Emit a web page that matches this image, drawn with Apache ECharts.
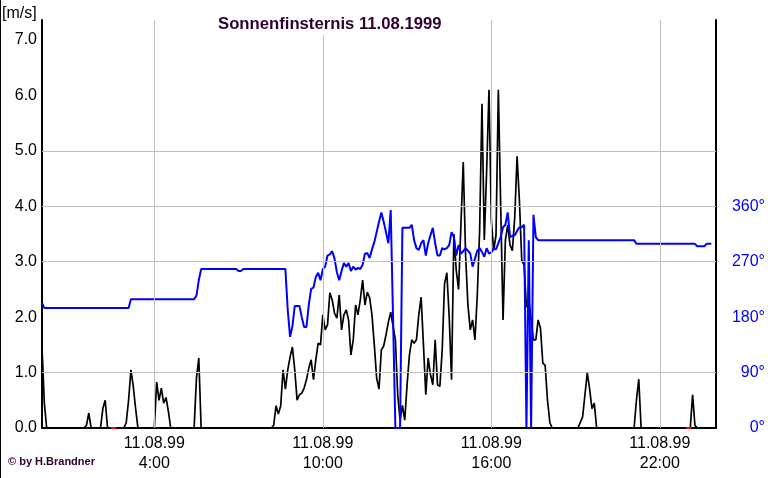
<!DOCTYPE html>
<html><head><meta charset="utf-8">
<script src="https://cdn.jsdelivr.net/npm/echarts@6/dist/echarts.min.js"></script>
<style>html,body{margin:0;padding:0;background:#fff}#c{width:768px;height:478px}</style>
</head><body><div id="c"></div>
<script>
const chartTitle = 'Sonnenfinsternis 11.08.1999';
const dateLabel = '11.08.99';
const credit = '\u00a9 by H.Brandner';
const speedUnit = '[m/s]';
const stepMinutes = 5;
// wind speed [m/s], one value every 5 minutes, one row per hour
const speed = [
  1.45,0.45,0,0,0,0,0,0,0,0,0,0,
  0,0,0,0,0,0,0,0.05,0.27,0,0,0,
  0,0,0.35,0.5,0,0,0,0,0,0,0,0,
  0.1,0.5,1.05,0.75,0.35,0,0,0,0,0,0,0,
  0,0.83,0.5,0.72,0.45,0.55,0.3,0,0,0,0,0,
  0,0,0,0,0,0,0.9,1.26,0,0,0,0,
  0,0,0,0,0,0,0,0,0,0,0,0,
  0,0,0,0,0,0,0,0,0,0,0,0,
  0,0,0,0.05,0.4,0.25,0.4,1.05,0.7,1.05,1.28,1.46,
  1.05,0.5,0.6,0.63,0.72,0.87,1.08,1.23,0.87,1.23,1.53,1.5,
  2.04,1.77,1.86,2.44,2.31,2.07,1.98,2.4,1.77,2.04,2.13,1.95,
  1.32,1.59,2.22,2.04,2.31,2.67,2.22,2.45,2.35,2.04,1.5,0.9,
  0.7,1.41,1.48,1.68,1.91,2.09,1.84,1.59,0.6,0.14,0.41,0.14,
  0.78,1.32,1.59,1.53,1.59,2.04,2.36,1.5,0.6,1.26,0.96,0.78,
  1.59,0.78,0.75,1.4,2.6,2.8,2.0,0.87,3.5,2.85,2.5,3.66,
  4.8,3.12,2.22,1.77,1.95,1.59,2.4,3.57,5.85,3.39,4.65,6.1,
  3.75,3.2,3.48,6.1,4.0,1.95,3.39,3.66,3.3,3.2,3.8,4.9,
  4.1,3.03,2.94,2.18,2.31,1.95,1.59,1.59,1.95,1.8,1.17,1.13,
  0.5,0.1,0,0,0,0,0,0,0,0,0,0,
  0,0,0.1,0.2,0.6,1.0,0.7,0.35,0.45,0,0,0,
  0,0,0,0,0,0,0,0,0,0,0,0,
  0,0,0.5,0.88,0,0,0,0,0,0,0,0,
  0,0,0,0,0,0,0,0,0,0,0,0,
  0,0,0.6,0.05,0,0,0,0,0,0,0
];
// wind direction [deg], same 5-minute steps
const direction = [
  203,195,195,195,195,195,195,195,195,195,195,195,
  195,195,195,195,195,195,195,195,195,195,195,195,
  195,195,195,195,195,195,195,195,195,195,195,195,
  195,195,209,209,209,209,209,209,209,209,209,209,
  209,209,209,209,209,209,209,209,209,209,209,209,
  209,209,209,209,209,209,215,240,258,258,258,258,
  258,258,258,258,258,258,258,258,258,258,258,258,
  255,255,258,258,258,258,258,258,258,258,258,258,
  258,258,258,258,258,258,258,258,258,192,148,165,
  198,198,198,180,164,164,200,226,228,245,252,240,
  258,262,280,282,287,275,253,240,255,268,262,268,
  255,262,257,260,258,265,283,284,276,290,302,318,
  335,350,335,318,300,354,180,0,0,0,325,325,
  325,325,330,305,292,289,300,305,280,300,313,325,
  300,280,280,292,290,292,297,318,310,280,297,283,
  287,292,288,283,262,275,288,292,286,278,292,283,
  285,292,290,300,310,326,330,350,310,312,313,320,
  326,326,330,0,305,0,346,310,305,305,305,305,
  305,305,305,305,305,305,305,305,305,305,305,305,
  305,305,305,305,305,305,305,305,305,305,305,305,
  305,305,305,305,305,305,305,305,305,305,305,305,
  305,305,299,299,299,299,299,299,299,299,299,299,
  299,299,299,299,299,299,299,299,299,299,299,299,
  299,299,299,299,295,295,295,295,299,299,299
];
const xTickHours = [4, 10, 16, 22];
const speedGridLines = [1, 3, 4, 5];
const speedTickMax = 7;
const directionTickMax = 360;
const calmMarks = [[2.45, 2.65], [22.93, 23.12]];

const FONT = 'Liberation Sans';
const speedMax = 7.36;
const toPairs = arr => arr.map((v, i) => [i * stepMinutes / 60, v]);

const chart = echarts.init(document.getElementById('c'), null, {renderer: 'canvas'});

const gridMarks = [
  ...xTickHours.map(h => ({xAxis: h})),
  ...speedGridLines.map(v => ({yAxis: v}))
];

const series = [
  {
    type: 'line', data: [], z: 1, silent: true, symbol: 'none',
    markLine: {
      silent: true, symbol: ['none', 'none'], animation: false,
      label: {show: false},
      lineStyle: {color: '#c0c0c0', type: 'solid', width: 1},
      data: gridMarks
    }
  },
  {
    name: 'speed', type: 'line', data: toPairs(speed), yAxisIndex: 0, z: 3,
    symbol: 'none', smooth: false, sampling: null,
    lineStyle: {color: '#000', width: 1.7}
  },
  {
    name: 'direction', type: 'line', data: toPairs(direction), yAxisIndex: 1, z: 4,
    symbol: 'none', smooth: false,
    lineStyle: {color: '#0000ff', width: 2}
  },
  ...calmMarks.map(m => ({
    type: 'line', data: [[m[0], 0], [m[1], 0]], yAxisIndex: 0, z: 5,
    symbol: 'none', lineStyle: {color: '#ff0000', width: 2}
  }))
];

chart.setOption({
  animation: false,
  backgroundColor: '#fff',
  title: {
    text: chartTitle, left: 215, top: 14, padding: [2, 3, 2, 3],
    backgroundColor: '#fff', z: 10,
    textStyle: {fontFamily: FONT, fontSize: 16.7, fontWeight: 'bold', color: '#300030', lineHeight: 17}
  },
  grid: {left: 42, right: 52, top: 20, bottom: 50, containLabel: false},
  xAxis: {
    type: 'value', min: 0, max: 24, interval: 2,
    axisLine: {show: true, onZero: false, lineStyle: {color: '#000', width: 2}},
    axisTick: {show: false},
    splitLine: {show: false},
    axisLabel: {
      margin: 6, color: '#000', fontFamily: FONT, fontSize: 16, lineHeight: 20,
      formatter: v => xTickHours.includes(v) ? dateLabel + '\n' + v + ':00' : ''
    }
  },
  yAxis: [
    {
      type: 'value', min: 0, max: speedMax, interval: 1, position: 'left',
      axisLine: {show: true, lineStyle: {color: '#000', width: 2}},
      axisTick: {show: false}, splitLine: {show: false},
      axisLabel: {
        margin: 5, color: '#000', fontFamily: FONT, fontSize: 16,
        formatter: v => v <= speedTickMax + 0.001 ? v.toFixed(1) : ''
      }
    },
    {
      type: 'value', min: 0, max: speedMax * 90, interval: 90, position: 'right',
      axisLine: {show: true, lineStyle: {color: '#000', width: 2}},
      axisTick: {show: false}, splitLine: {show: false},
      axisLabel: {
        margin: 49, align: 'right', color: '#0000ff', fontFamily: FONT, fontSize: 16,
        formatter: v => v <= directionTickMax + 0.001 ? Math.round(v) + '\u00b0' : ''
      }
    }
  ],
  graphic: [
    {type: 'rect', left: 0, top: 0, shape: {x: 0, y: 0, width: 1, height: 478}, style: {fill: '#000'}, silent: true},
    {type: 'text', left: 2, top: 6, style: {text: speedUnit, font: '16px "Liberation Sans"', fill: '#000'}, silent: true},
    {type: 'text', left: 8, top: 456, style: {text: credit, font: 'bold 11px "Liberation Sans"', fill: '#300030'}, silent: true}
  ],
  series: series
});
</script>
</body></html>
